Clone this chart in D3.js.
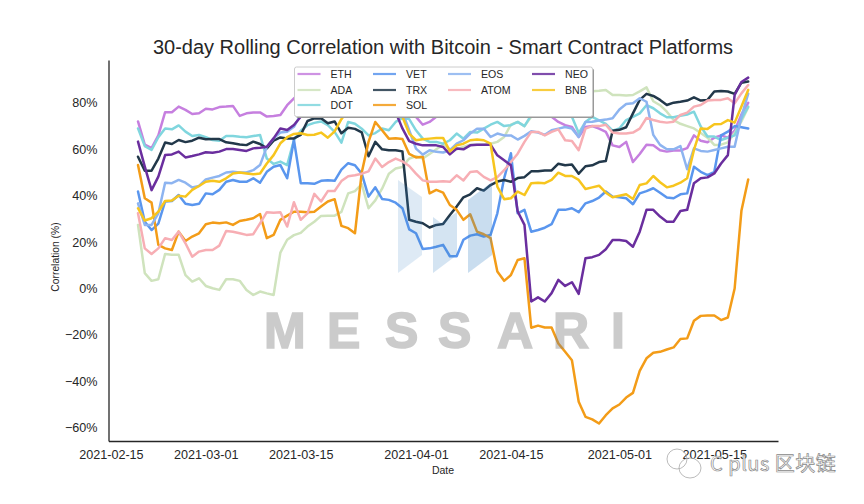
<!DOCTYPE html>
<html><head><meta charset="utf-8">
<script src="https://cdn.jsdelivr.net/npm/d3@7/dist/d3.min.js"></script>
<style>
html,body{margin:0;padding:0;background:#fff}
text{font-family:"Liberation Sans",Arial,sans-serif;fill:#262626}
</style></head><body><div id="c"></div>
<script>
const startDate = "2021-02-19";
const tickLabels = ["2021-02-15","2021-03-01","2021-03-15","2021-04-01","2021-04-15","2021-05-01","2021-05-15"];
const yTicks = [80,60,40,20,0,-20,-40,-60];
const names = ["ETH","ADA","DOT","VET","TRX","SOL","EOS","ATOM","NEO","BNB"];
const colors = ["#c67fdf","#cfe3bd","#80d6de","#5a96ee","#22384a","#f39c18","#8db4f0","#f7aeb4","#6a2e9e","#f7c51e"];

const ETH = [72,62,60.5,66,76,76,78.4,77,75.2,75.5,77.5,77.2,78.2,78.4,78.7,74.4,75.5,75.9,75.9,74.1,74.4,74.8,79,82,84,84,85,84,83,82,80,80,82,83,84,84,82,80,78,76,76,74,70.6,71.8,74,78,80,81,82,82,81,81,80,81,80,79,79,78,78,77,76,74,71.8,70.4,69.6,65.3,69.6,70,68.9,67.5,61.7,61,63.2,54.5,58,62,61.7,59.6,59,59.5,59.5,60.5,66,63.7,63,65,66,65,68,75,80];
const ADA = [27.4,6.6,3.3,4,14.9,14.5,14.5,5.8,3,4.4,1.1,0.1,-0.6,4,4,3.3,-0.6,-2.8,-1.3,-2.1,-2.8,15.5,21,23,24,26.7,28.8,31.3,31.4,31.4,33,41,42,45,34.6,38,43,49.5,51.7,52.4,56,57,56,58,60,62,60,60,61,62,62,62,62.4,63.2,65.3,70.6,71.8,70,74,76,78,80,81,82,83,84,85,85,85.2,85.6,83.4,83.4,83.2,83.4,85,86.7,80.7,79,76.2,72.6,71,70,69,67,65,61.9,62,63,67,72,78];
const DOT = [69,61.4,59.7,65.2,69,68.6,70.3,67.6,65.7,66.2,65.2,64,63.7,65.7,65.7,65.4,65.2,65.7,66.2,56,53.7,54.7,53.2,64,68,70.4,71.4,72,70.4,67.5,62.9,71.8,71,68.9,66,67,69,68.2,71.8,73.5,73,68.2,64.6,63.2,63.2,62.4,63.9,66.8,64.6,67.5,67.2,68.9,70.6,71.8,70,70.4,71.8,70,74.7,76,77,77,76,76,74,67,71.8,74,72.5,71,68,69,72.6,74,75.5,79,77.7,75.5,73.8,73.8,74.5,75,76.2,69.8,65.5,65.5,64,65,66,73,78.4];
const VET = [41.8,28.8,25.2,28,37.5,37.7,40.3,36.5,36,36.5,41,40.6,42.5,46,46.8,46,46,47.5,45.6,50.3,52.5,53.2,47.5,64,45.4,45.4,45.1,46.4,46.7,46.4,51.2,54,53.1,49.5,39.6,43.6,38.6,38.2,37,34.6,25.5,23.8,17,17.3,18,18.8,13.9,13.9,21,22.8,23.4,22.4,23.1,32.4,47.5,58.3,32.4,33.9,24.5,25.2,26.2,27.7,33.9,33.9,34.6,32.9,36.7,37.7,39.2,41.8,39.6,39.3,38.9,36.3,41,42,43.2,41.3,39.2,38.9,40.6,41,52.5,50.3,48.9,50.3,66,67.6,70,69.5,69];
const TRX = [56.8,50.8,50.8,56,62.9,62.3,64,63.1,63.7,65,64.3,64.4,64.4,63,62.6,62.1,61.8,63.3,62.3,60.4,63.7,65.1,64.7,64.7,66.2,72.2,73.3,73.4,71.2,72,66.9,69.3,68.8,67.3,57,63.2,60,59.6,59.6,59.1,29.6,28.8,28.1,26.3,27.4,27.8,31.7,35.3,39.3,40.6,43.2,42.2,44.6,46.1,46.8,46,47.6,48,50.5,50.5,50.9,50.9,53.8,53.1,53.4,49.5,52.7,53.1,54.5,55,68,68.4,69.5,75.5,81.3,83.9,83,81.3,79.1,80.1,80.5,81,82.4,81,81.3,84.9,85.1,84.9,83.9,88.7,89.2];
const SOL = [53.2,38.9,37,18.8,17.3,16.6,24.5,20.5,22.4,23.8,27.7,28.4,28.1,28.5,27.4,29.1,29.6,30.3,32.1,21.7,23.1,29.6,31.4,33.1,33.1,32.9,33.1,35.3,37.5,38.5,27,26,23.8,50,63.2,71.8,68.2,64.6,64.8,64.4,58,56.5,56.8,41,42.5,41.3,36,33.9,29.6,32,24.5,23.4,21.7,7.3,3.3,5.8,12.3,13,-16.9,-16,-16.8,-16.8,-23.7,-27.3,-30.9,-48.8,-55.3,-56.4,-58.2,-54.6,-51.7,-50,-47,-45,-35.5,-30.1,-27.7,-27.3,-26.3,-25.4,-21.8,-21.5,-13.9,-11.8,-11.6,-11.6,-13.6,-12.5,0,33.5,47];
const EOS = [36.7,27.4,27.4,32.4,45.6,45.4,46.8,45.6,43.5,44.2,47,47.8,48.5,50,50.3,50,50,51,53.2,61.1,64.7,67.2,67.6,69.7,75,76,77,78,78,77,77,78,79,78,78,79,79,78,77,76,68.2,60.3,57.7,59.6,58.9,58.6,59.6,62.4,63.9,66.8,68.9,68.9,65.3,66.8,66,66,64.2,65.8,67.8,67.2,66.3,68.2,68.9,69.6,68.9,65.3,71.8,71.9,72.4,72.8,73.4,77.2,79.5,79.8,82,80.5,66.2,61.9,60,60,61.4,51.4,60.4,59.3,59,59.7,60.4,61.1,61.1,74,84];
const ATOM = [32.4,17.3,14.9,17.3,21.7,20.9,24.5,19.5,13.7,15.9,16.6,16.6,18.5,24.8,24.5,23.8,23.1,23.4,28.1,32.9,32.7,32.9,26.7,37.2,29.6,32.4,40.8,37.5,42,42,46.3,48.4,48.8,49.5,50.5,56,52.4,54.5,56,54.8,52.8,49.5,46.6,46,46,46.2,46,48.8,46.6,50.2,50.5,48.1,46.6,48,51,54.5,58.1,63.2,67.5,67.5,66,67.5,68.6,63.9,63.6,59.6,68.9,70,70,70.6,67.2,66.8,66.8,67.2,68.9,73.5,72.6,71.9,71.5,71.9,74.8,75.8,78.4,79.1,81,81.3,81.3,82,79.8,84.1,87.7];
const NEO = [63.3,52.5,42.4,48.2,57.5,57.8,59,56.5,57.1,57.8,58.7,58.5,59,60.1,60.1,59.7,59.3,60.4,60.7,61.1,64.7,69,68.3,70.5,74,75,75,76,78,79,80,80,79,79,80,80,79,78,76,69,63.5,62.4,61.7,61.7,61.7,61,57.8,60.3,60,61.7,62,62,62,57.4,55.3,53.1,33.2,27.4,-5.6,-3.8,-5.6,-2,3.7,1.1,2.7,-2.3,13,13.5,14.5,16.9,20.9,20.9,20.5,18,24.5,33.9,33.9,31,28.8,28.8,33.4,33.9,45.4,47.5,47.9,49.6,53.9,57.5,83.4,89,90.9];
const BNB = [34.6,29.3,30.3,33.1,37.7,37.9,40,39.6,42.5,44.2,46,46.4,46,47.5,49.6,50,49.6,49.2,49.6,53.9,57.5,62.6,65.2,66.6,66.9,66.2,66.3,67.2,65,67.7,73,77,78,79,78,77,77,76,76,74,66.8,63.9,64.3,64.6,64.9,64.9,59.1,61.7,62.4,63.9,64.2,63.9,62.4,43.9,38.5,38.9,41.8,40.3,45.4,45.6,45.4,46.8,49.9,48.5,48.5,46.8,42.9,43.6,44.3,41.3,39.3,40,40.6,38.6,44.6,45.3,48.5,45.8,43.6,44.3,45.6,47.5,59.7,69,68.8,70.8,70.9,72.6,71.5,78.4,85.6];
const series = [ETH,ADA,DOT,VET,TRX,SOL,EOS,ATOM,NEO,BNB];

const W=864,H=504;
const svg=d3.select("#c").append("svg").attr("width",W).attr("height",H).style("display","block");
const L=108.5,R=778,T=60,B=441;
const parse=d3.utcParse("%Y-%m-%d");
const t0=parse(startDate);
const dayMs=864e5, pxPerDay=6.78;
const x=d3.scaleUtc().domain([new Date(+t0-(138-L)/pxPerDay*dayMs),new Date(+t0+(R-138)/pxPerDay*dayMs)]).range([L,R]);
const y=d3.scaleLinear().domain([(288.5-T)/2.32,(288.5-B)/2.32]).range([T,B]);
const dates=ETH.map((_,i)=>d3.utcDay.offset(t0,i));
const line=d3.line().x((d,i)=>x(dates[i])).y(d=>y(d));

svg.append("text").attr("x",443).attr("y",54).attr("text-anchor","middle").style("font-size","20px").text("30-day Rolling Correlation with Bitcoin - Smart Contract Platforms");

series.forEach((s,k)=>{
  svg.append("path").datum(s).attr("d",line).attr("fill","none").attr("stroke",colors[k]).attr("stroke-width",2.5).attr("stroke-linejoin","round").attr("stroke-linecap","round");
});

// watermark shapes
[[[398,180],[422,197],[422,255],[398,273]],
 [[433,217],[441,223],[457,212],[457,255],[433,273]],
 [[468,200],[492,182],[492,255],[468,273]]].forEach((p,i)=>{
  svg.append("polygon").attr("points",p.join(" ")).attr("fill","#3d85c6").attr("opacity",[0.17,0.22,0.28][i]);
});
const wm=svg.append("text").style("font-size","50px").style("font-weight","bold").attr("y",348).style("fill","#7f7f7f").attr("stroke","#7f7f7f").attr("stroke-width",1.6).attr("opacity",0.4);
[["M",264],["E",327],["S",385],["S",438],["A",497],["R",553],["I",611]].forEach(d=>wm.append("tspan").attr("x",d[1]).text(d[0]));

// axes
const gx=svg.append("g").attr("transform",`translate(0,${B})`).call(d3.axisBottom(x).tickValues(tickLabels.map(parse)).tickFormat(d3.utcFormat("%Y-%m-%d")).tickSize(0).tickPadding(9));
const gy=svg.append("g").attr("transform",`translate(${L},0)`).call(d3.axisLeft(y).tickValues(yTicks).tickFormat(d=>(d<0?"\u2212"+(-d):d)+"%").tickSize(0).tickPadding(11));
[gx,gy].forEach(g=>{g.selectAll("text").style("font-size","12.6px").style("font-family",'"Liberation Sans",Arial,sans-serif');g.select(".domain").attr("stroke","#262626").attr("stroke-width",1.3);});
svg.append("text").attr("x",443).attr("y",474).attr("text-anchor","middle").style("font-size","10.5px").text("Date");
svg.append("text").attr("transform","translate(59,257) rotate(-90)").attr("text-anchor","middle").style("font-size","10.3px").text("Correlation (%)");

// legend
svg.append("rect").attr("x",296).attr("y",68.5).attr("width",298).attr("height",49.5).attr("rx",2).attr("fill","#999");
svg.append("rect").attr("x",294.5).attr("y",67).attr("width",298).attr("height",49.5).attr("rx",2).attr("fill","#fff").attr("stroke","#ccc").attr("stroke-width",1);
const colX=[297.5,373,448,532], rowY=[74,90,105], perCol=[3,3,2,2];
let k=0;
perCol.forEach((n,c)=>{for(let r=0;r<n;r++,k++){
  svg.append("line").attr("x1",colX[c]).attr("x2",colX[c]+23).attr("y1",rowY[r]).attr("y2",rowY[r]).attr("stroke",colors[k]).attr("stroke-width",2.2).attr("opacity",0.85);
  svg.append("text").attr("x",colX[c]+33).attr("y",rowY[r]+3.8).style("font-size","10.6px").text(names[k]);
}});

// wechat mark
const wc=svg.append("g").attr("fill","none").attr("stroke","#aaa").attr("stroke-width",0.8);
wc.append("ellipse").attr("cx",677).attr("cy",459).attr("rx",10).attr("ry",10);
wc.append("ellipse").attr("cx",690).attr("cy",468).attr("rx",11).attr("ry",10);
svg.append("text").attr("x",710).attr("y",471).style("font-size","20px").style("font-family",'"Noto Sans CJK SC","Liberation Sans",sans-serif').style("letter-spacing","0.5px").style("fill","#fff").attr("stroke","#888").attr("stroke-width",0.7).text("C plus 区块链");
</script></body></html>
